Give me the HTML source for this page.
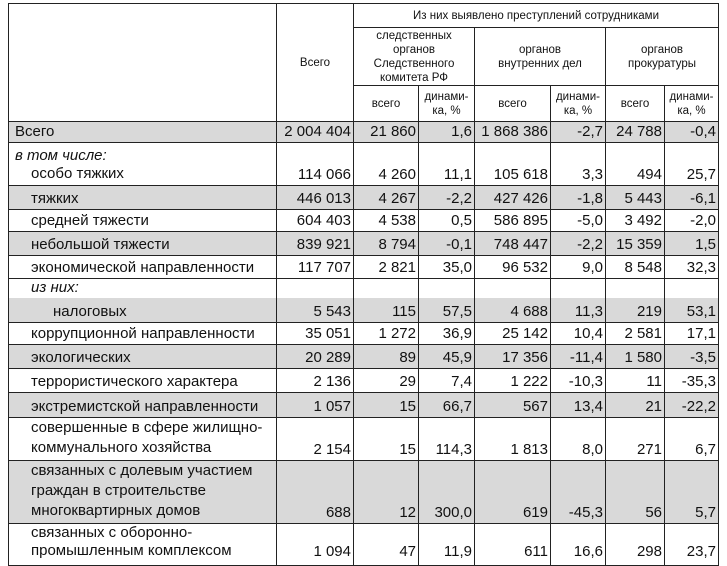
<!DOCTYPE html>
<html><head><meta charset="utf-8"><style>
body{margin:0;background:#fff;width:727px;height:565px;overflow:hidden;font-family:"Liberation Sans",Arial,sans-serif;}
table{position:absolute;left:8px;top:3px;border-collapse:collapse;table-layout:fixed;}
td{border:1px solid #222;padding:0 2px 2px 2px;font-size:15px;color:#111;vertical-align:bottom;text-align:right;white-space:nowrap;line-height:17px;overflow:hidden;}
td.l{text-align:left;padding-left:6px;}
td.i{padding-left:22px;}
td.h{font-size:11.5px;text-align:center;vertical-align:middle;line-height:14px;white-space:normal;padding:0 3px;}
td.w{white-space:normal;line-height:20px;}
tr.g td{background:#d9d9d9;}
.nb td{border-bottom:none;}
.nt td{border-top:none;}
tr.last td{padding-bottom:5px;}
</style></head><body>
<table>
<colgroup><col style="width:268px"><col style="width:77px"><col style="width:65px"><col style="width:56px"><col style="width:76px"><col style="width:55px"><col style="width:59px"><col style="width:54px"></colgroup>
<tr style="height:24px"><td class="h" rowspan="3"></td><td class="h" rowspan="3">Всего</td><td class="h" colspan="6">Из них выявлено преступлений сотрудниками</td></tr>
<tr style="height:58px"><td class="h" colspan="2" style="padding:0 14px">следственных органов Следственного комитета РФ</td><td class="h" colspan="2" style="padding:0 12px">органов внутренних дел</td><td class="h" colspan="2" style="padding:0 12px">органов прокуратуры</td></tr>
<tr style="height:36px"><td class="h">всего</td><td class="h">динами-ка, %</td><td class="h">всего</td><td class="h">динами-ка, %</td><td class="h">всего</td><td class="h">динами-ка, %</td></tr>
<tr class="g" style="height:21px"><td class="l">Всего</td><td>2 004 404</td><td>21 860</td><td>1,6</td><td>1 868 386</td><td>-2,7</td><td>24 788</td><td>-0,4</td></tr>
<tr style="height:43px"><td class="l" style="line-height:18px"><i>в том числе:</i><br><span style="padding-left:16px">особо тяжких</span></td><td>114 066</td><td>4 260</td><td>11,1</td><td>105 618</td><td>3,3</td><td>494</td><td>25,7</td></tr>
<tr class="g" style="height:24px"><td class="l i">тяжких</td><td>446 013</td><td>4 267</td><td>-2,2</td><td>427 426</td><td>-1,8</td><td>5 443</td><td>-6,1</td></tr>
<tr style="height:22px"><td class="l i">средней тяжести</td><td>604 403</td><td>4 538</td><td>0,5</td><td>586 895</td><td>-5,0</td><td>3 492</td><td>-2,0</td></tr>
<tr class="g" style="height:24px"><td class="l i">небольшой тяжести</td><td>839 921</td><td>8 794</td><td>-0,1</td><td>748 447</td><td>-2,2</td><td>15 359</td><td>1,5</td></tr>
<tr style="height:23px"><td class="l i">экономической направленности</td><td>117 707</td><td>2 821</td><td>35,0</td><td>96 532</td><td>9,0</td><td>8 548</td><td>32,3</td></tr>
<tr class="nb" style="height:19px"><td class="l i"><i>из них:</i></td><td></td><td></td><td></td><td></td><td></td><td></td><td></td></tr>
<tr class="g nt" style="height:24px"><td class="l" style="padding-left:44px">налоговых</td><td>5 543</td><td>115</td><td>57,5</td><td>4 688</td><td>11,3</td><td>219</td><td>53,1</td></tr>
<tr style="height:22px"><td class="l i">коррупционной направленности</td><td>35 051</td><td>1 272</td><td>36,9</td><td>25 142</td><td>10,4</td><td>2 581</td><td>17,1</td></tr>
<tr class="g" style="height:24px"><td class="l i">экологических</td><td>20 289</td><td>89</td><td>45,9</td><td>17 356</td><td>-11,4</td><td>1 580</td><td>-3,5</td></tr>
<tr style="height:24px"><td class="l i">террористического характера</td><td>2 136</td><td>29</td><td>7,4</td><td>1 222</td><td>-10,3</td><td>11</td><td>-35,3</td></tr>
<tr class="g" style="height:25px"><td class="l i">экстремистской направленности</td><td>1 057</td><td>15</td><td>66,7</td><td>567</td><td>13,4</td><td>21</td><td>-22,2</td></tr>
<tr style="height:42px"><td class="l i w">совершенные в сфере жилищно-коммунального хозяйства</td><td>2 154</td><td>15</td><td>114,3</td><td>1 813</td><td>8,0</td><td>271</td><td>6,7</td></tr>
<tr class="g" style="height:59px"><td class="l i w">связанных с долевым участием граждан в строительстве многоквартирных домов</td><td>688</td><td>12</td><td>300,0</td><td>619</td><td>-45,3</td><td>56</td><td>5,7</td></tr>
<tr class="last" style="height:41px"><td class="l i w" style="line-height:18px">связанных с оборонно-промышленным комплексом</td><td>1 094</td><td>47</td><td>11,9</td><td>611</td><td>16,6</td><td>298</td><td>23,7</td></tr>
</table>
</body></html>
